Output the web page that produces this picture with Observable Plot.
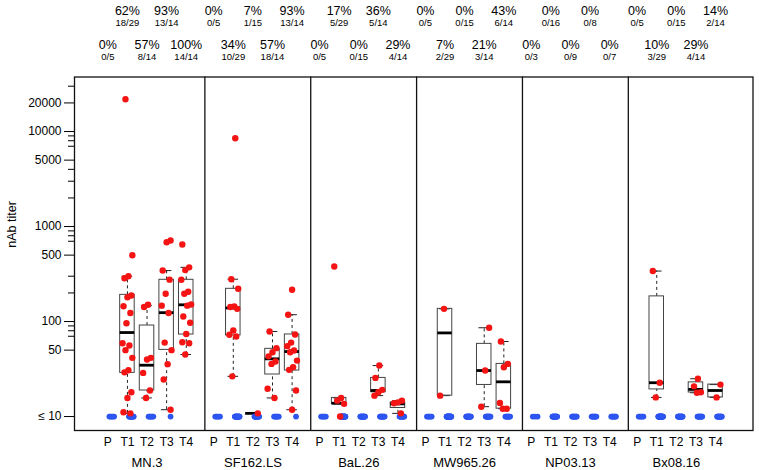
<!DOCTYPE html>
<html><head><meta charset="utf-8">
<script src="https://cdn.jsdelivr.net/npm/d3@7"></script>
<script src="https://cdn.jsdelivr.net/npm/@observablehq/plot@0.6"></script>
<style>body{margin:0;background:#fff}</style>
</head><body><div id="chart"></div>
<script>
// ---------- data ----------
const strains = ["MN.3", "SF162.LS", "BaL.26", "MW965.26", "NP03.13", "Bx08.16"];
const timepoints = ["P", "T1", "T2", "T3", "T4"];
const pctPositive = [
  [0, 62, 57, 93, 100],
  [0, 34, 7, 57, 93],
  [0, 17, 0, 36, 29],
  [0, 7, 0, 21, 43],
  [0, 0, 0, 0, 0],
  [0, 10, 0, 29, 14]
];
const fractionLabels = [
  ["0/5", "18/29", "8/14", "13/14", "14/14"],
  ["0/5", "10/29", "1/15", "18/14", "13/14"],
  ["0/5", "5/29", "0/15", "5/14", "4/14"],
  ["0/5", "2/29", "0/15", "3/14", "6/14"],
  ["0/3", "0/16", "0/9", "0/8", "0/7"],
  ["0/5", "3/29", "0/15", "4/14", "2/14"]
];
// non-responders, drawn at the "≤ 10" floor
const negativeCounts = [
  [5, 11, 6, 1, 0],
  [5, 19, 14, 6, 1],
  [5, 24, 15, 9, 10],
  [5, 27, 15, 11, 8],
  [3, 16, 9, 8, 7],
  [5, 26, 15, 10, 12]
];
// responder titers per time point (P, T1..T4)
const titersMN3 = [[], [21900, 499, 300, 286, 188, 180, 145, 123, 96, 59, 56, 50, 41.5, 30.7, 29.2, 18, 15.7, 11.1, 10.8], [150, 142, 41.5, 39.8, 28.8, 18.8, 15.7], [713, 684, 344, 276, 196, 147, 123, 60, 50, 35.6, 24.5, 11.8], [648, 372, 348, 275, 206, 196, 151, 147, 113, 97, 74, 60.6, 59, 45]];
const titersSF162 = [[], [8500, 279, 221, 144, 142, 136, 80.5, 72.5, 69.5, 26.5], [10.8], [78.6, 52.5, 47.5, 43, 37.9, 35.8, 19.6, 15.7], [216, 118, 73, 60, 55.1, 49.5, 47.5, 38.8, 33.1, 31, 18.8, 11.8]];
const titersBaL = [[], [379, 15.7, 14.7, 13.6, 10], [], [34.4, 25.5, 19.1, 18, 16.6], [14.7, 14.1, 13.8, 10.8]];
const titersMW965 = [[], [136, 16.6], [], [86, 30.5, 12.7], [61.6, 35.8, 33, 13.9, 12.1, 12.1]];
const titersNP03 = [[], [], [], [], []];
const titersBx08 = [[], [340, 22.7, 15.9], [], [25, 20.8, 18, 17.8], [21.7, 15.9]];
const titers = [titersMN3, titersSF162, titersBaL, titersMW965, titersNP03, titersBx08];
// box statistics (lower whisker, Q1, median, Q3, upper whisker)
const boxLo  = [[null, 10.8, 15.7, 11.8, 45], [null, 26.5, 10.8, 15.7, 11.8], [null, 13.6, null, 16.6, 10.8], [null, 16.6, null, 12.7, 12.1], [null, null, null, null, null], [null, 15.9, null, 17.8, 15.9]];
const boxQ1  = [[null, 28.8, 18.8, 50.3, 73], [null, 71.3, 10.8, 27.7, 30.5], [null, 13.6, null, 18, 12.3], [null, 16.6, null, 21.5, 12.1], [null, null, null, null, null], [null, 19.3, null, 17.9, 15.9]];
const boxMed = [[null, 76.6, 34.7, 124, 150], [null, 139, 10.8, 40.5, 48.3], [null, 13.8, null, 18.8, 13.6], [null, 75.9, null, 30.5, 23.2], [null, null, null, null, null], [null, 22.7, null, 19.3, 18.8]];
const boxQ3  = [[null, 191, 90.8, 275, 275], [null, 221, 10.8, 51.6, 73.1], [null, 15.7, null, 25.5, 14.1], [null, 136, null, 58.2, 35.8], [null, null, null, null, null], [null, 184, null, 22.9, 21.7]];
const boxHi  = [[null, 300, 147, 344, 372], [null, 279, 10.8, 78.6, 118], [null, 15.7, null, 34.4, 14.7], [null, 136, null, 86, 61.6], [null, null, null, null, null], [null, 340, null, 25, 21.7]];
const yMajorTicks = [10, 50, 100, 500, 1000, 5000, 10000, 20000];
const yTickLabels = ["\u2264 10", "50", "100", "500", "1000", "5000", "10000", "20000"];
const yMinorTicks = [70, 80, 90, 200, 300, 700, 800, 900, 2000, 3000, 4000, 7000, 8000, 9000, 30000];

// ---------- layout helpers ----------
const GROUP_STEP = 5.4;
const pos = (g, s) => g * GROUP_STEP + s;

const slots = [];
strains.forEach((st, g) => timepoints.forEach((tp, s) => {
  slots.push({g, s, k: g * 5 + s, x: pos(g, s), tp, strain: st,
    pct: pctPositive[g][s] + "%", frac: fractionLabels[g][s]});
}));
const groupLabels = strains.map((st, g) => ({x: pos(g, 2), strain: st}));
const boundaries = strains.slice(1).map((_, g) => pos(g, 4.95));
const yTicks = yMajorTicks.map((v, i) => ({v, label: yTickLabels[i]}));

const negPts = [];
slots.forEach(d => {
  const n = negativeCounts[d.g][d.s];
  for (let i = 0; i < n; i++) {
    const off = n === 1 ? 0 : (i / (n - 1) - 0.5) * 0.24;
    negPts.push({x: d.x + 0.2 + off, y: 10});
  }
});
const posPts = [];
slots.forEach(d => {
  titers[d.g][d.s].forEach((v, i) => {
    const off = (((i * 7 + d.k * 3) % 11) / 10 - 0.5) * 0.5;
    posPts.push({x: d.x + off, y: v});
  });
});
const boxes = slots.filter(d => boxMed[d.g][d.s] != null).map(d => ({
  x: d.x, lo: boxLo[d.g][d.s], q1: boxQ1[d.g][d.s], med: boxMed[d.g][d.s],
  q3: boxQ3[d.g][d.s], hi: boxHi[d.g][d.s]
}));

const HB = 0.37, HC = 0.27;
const upper = slots.filter(d => d.k % 2 === 1);
const lower = slots.filter(d => d.k % 2 === 0);

const chart = Plot.plot({
  width: 759, height: 470,
  marginLeft: 74, marginRight: 6.5, marginTop: 76.5, marginBottom: 40,
  style: {fontFamily: "'Liberation Sans', Arial, Helvetica, sans-serif", fontSize: "12px", background: "#fff", color: "#000"},
  x: {type: "linear", domain: [-1.70, 32.91], axis: null},
  y: {type: "log", domain: [7.13, 37500], axis: null},
  marks: [
    // whiskers
    Plot.ruleX(boxes, {x: "x", y1: "q3", y2: "hi", stroke: "#222", strokeDasharray: "3,3", strokeWidth: 1}),
    Plot.ruleX(boxes, {x: "x", y1: "lo", y2: "q1", stroke: "#222", strokeDasharray: "3,3", strokeWidth: 1}),
    Plot.ruleY(boxes, {y: "hi", x1: d => d.x - HC, x2: d => d.x + HC, stroke: "#222", strokeWidth: 1}),
    Plot.ruleY(boxes, {y: "lo", x1: d => d.x - HC, x2: d => d.x + HC, stroke: "#222", strokeWidth: 1}),
    // boxes
    Plot.rect(boxes, {x1: d => d.x - HB, x2: d => d.x + HB, y1: "q1", y2: "q3", fill: "none", stroke: "#444", strokeWidth: 1}),
    Plot.ruleY(boxes, {y: "med", x1: d => d.x - HB, x2: d => d.x + HB, stroke: "#000", strokeWidth: 2.8}),
    // points
    Plot.dot(negPts, {x: "x", y: "y", r: 2.9, fill: "#2d55f0", stroke: "none"}),
    Plot.dot(posPts, {x: "x", y: "y", r: 3.2, fill: "#f41414", stroke: "none"}),
    // panel separators and frame
    Plot.ruleX(boundaries, {stroke: "#111", strokeWidth: 1.3}),
    Plot.frame({stroke: "#111", strokeWidth: 1.3}),
    // y axis
    Plot.axisY(yMajorTicks, {anchor: "left", tickSize: 10, tickFormat: () => "", label: null}),
    Plot.axisY(yMinorTicks, {anchor: "left", tickSize: 6, tickFormat: () => "", label: null}),
    Plot.text(yTicks, {y: "v", text: "label", frameAnchor: "left", textAnchor: "end", dx: -13, fontSize: 12, lineAnchor: "middle"}),
    Plot.text(["nAb titer"], {frameAnchor: "left", text: d => d, rotate: -90, dx: -63, dy: -6, fontSize: 12.5}),
    // x labels
    Plot.text(slots, {x: "x", text: "tp", frameAnchor: "bottom", dy: 12, fontSize: 12, lineAnchor: "middle"}),
    Plot.text(groupLabels, {x: "x", text: "strain", frameAnchor: "bottom", dy: 32, fontSize: 13, lineAnchor: "middle"}),
    // response rates on top
    Plot.text(upper, {x: "x", text: "pct", frameAnchor: "top", dy: -66.5, fontSize: 12.5, lineAnchor: "middle"}),
    Plot.text(upper, {x: "x", text: "frac", frameAnchor: "top", dy: -54, fontSize: 9.5, lineAnchor: "middle"}),
    Plot.text(lower, {x: "x", text: "pct", frameAnchor: "top", dy: -32.2, fontSize: 12.5, lineAnchor: "middle"}),
    Plot.text(lower, {x: "x", text: "frac", frameAnchor: "top", dy: -20.2, fontSize: 9.5, lineAnchor: "middle"})
  ]
});
document.getElementById("chart").appendChild(chart);
</script></body></html>
